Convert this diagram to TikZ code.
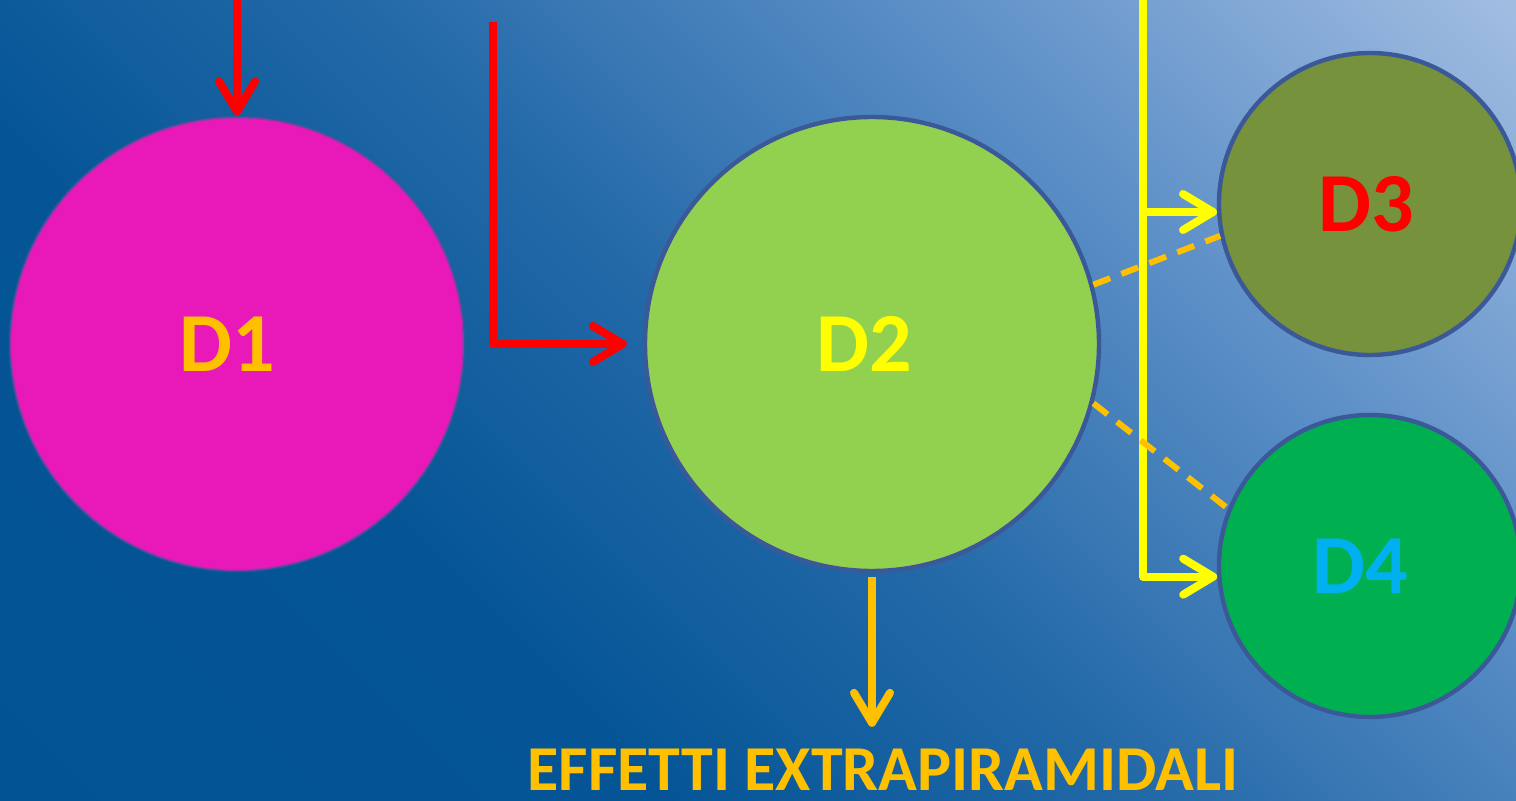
\documentclass[tikz,border=0pt]{standalone}
\usepackage{fontspec}
\setmainfont{Carlito}
\usetikzlibrary{arrows.meta,positioning,calc}

\definecolor{bgdark}{RGB}{0,82,147}
\definecolor{bgdarkb}{RGB}{5,85,150}
\definecolor{bgmid}{RGB}{35,105,168}
\definecolor{bgmidb}{RGB}{95,145,200}
\definecolor{bglight}{RGB}{160,188,225}
\definecolor{rim}{RGB}{59,89,152}
\definecolor{pinkD}{RGB}{233,25,185}
\definecolor{limeD}{RGB}{146,208,80}
\definecolor{oliveD}{RGB}{118,146,60}
\definecolor{greenD}{RGB}{0,176,80}
\definecolor{amber}{RGB}{255,192,0}
\definecolor{skyD}{RGB}{0,176,240}
\definecolor{yel}{RGB}{255,255,0}
\definecolor{redD}{RGB}{255,0,0}

\pgfdeclarehorizontalshading{bgshade}{100bp}{color(0bp)=(bgdark); color(35bp)=(bgdarkb); color(50bp)=(bgmid); color(68bp)=(bgmidb); color(85bp)=(bglight); color(100bp)=(bglight)}

\begin{document}
\begin{tikzpicture}[x=0.5pt, y=-0.5pt,
	disc/.style = {circle, draw=rim, line width=2.2pt, inner sep=0pt, font=\fontsize{42}{42}\selectfont\bfseries},
	bigdisc/.style = {disc, minimum size=227pt},
	smalldisc/.style = {disc, minimum size=151pt},
	barb/.style = {-{Straight Barb[length=15pt, width=18pt, round]}, line width=4pt},
	dashlink/.style = {amber, line width=3pt, dash pattern=on 9pt off 6pt}]
	\useasboundingbox (0,0) rectangle (1516,801);
	\shade[shading=bgshade, shading angle=45] (0,0) rectangle (1516,801);

	\coordinate (redtop) at (237,0);
	\coordinate (redbend) at (493,22);
	\coordinate (yeltop) at (1143,0);

	\node[bigdisc, fill=pinkD, text=amber, draw opacity=0.5, line width=1.5pt] (D1) at (237,344) {D1\hspace*{10pt}};
	\node[bigdisc, fill=limeD, text=yel] (D2) at (872,344) {D2\hspace*{8pt}};
	\node[smalldisc, fill=oliveD, text=redD] (D3) at (1370,204) {D3\hspace*{4pt}};
	\node[smalldisc, fill=greenD, text=skyD] (D4) at (1370,566) {D4\hspace*{10pt}};
	\node[amber, inner sep=0pt, font=\fontsize{32}{32}\selectfont\bfseries] (eff) at (883,770) {EFFETTI EXTRAPIRAMIDALI};

	\draw[barb, redD] (redtop) -- (D1.north);
	\draw[barb, redD, line join=round, shorten >=8pt] (redbend) |- (D2.west);
	\draw[barb, yel, line join=round] (yeltop) |- (D4.184);
	\draw[barb, yel] (yeltop |- D3.183) -- (D3.183);
	\draw[dashlink] (D2.15) -- (D3.192);
	\draw[dashlink] (D2.-15) -- (D4.158);
	\draw[barb, amber, shorten <=2pt, shorten >=11pt] (D2.south) -- (D2.south |- eff.north);
\end{tikzpicture}
\end{document}
